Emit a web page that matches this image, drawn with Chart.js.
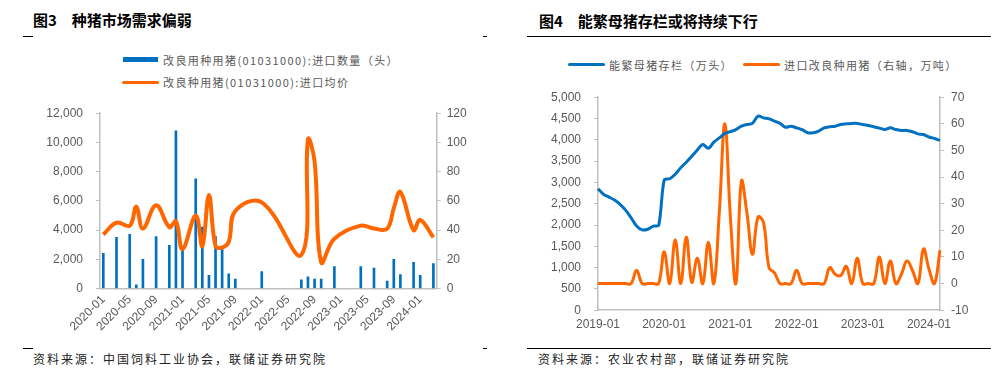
<!DOCTYPE html>
<html>
<head>
<meta charset="utf-8">
<script src="https://cdn.jsdelivr.net/npm/chart.js@4.4.1/dist/chart.umd.min.js"></script>
<style>
  body { margin: 0; width: 1003px; height: 373px; background: #fff; position: relative; overflow: hidden;
         font-family: "Noto Sans CJK SC", sans-serif; }
  .abs { position: absolute; white-space: nowrap; }
  .title { font-size: 15px; font-weight: 700; color: #000; line-height: 20px; }
  .legend { font-size: 11px; letter-spacing: 1.4px; color: #595959; line-height: 14px; }
  .src { font-size: 12px; letter-spacing: 2px; color: #222; line-height: 16px; }
  .rule { position: absolute; height: 1px; background: #000; }
  .sw { position: absolute; }
</style>
</head>
<body>
  <!-- left panel -->
  <div class="abs title" style="left:33px; top:10px;">图3<span style="margin-left:15px;">种猪市场需求偏弱</span></div>
  <div class="rule" style="left:23px; top:36px; width:10px;"></div>
  <div class="rule" style="left:483px; top:36px; width:4px;"></div>
  <div class="sw" style="left:123px; top:57px; width:35px; height:5px; background:#0070C0;"></div>
  <div class="abs legend" style="left:163px; top:53px;">改良用种用猪(01031000):进口数量（头）</div>
  <div class="sw" style="left:122px; top:81px; width:37px; height:3px; border-radius:2px; background:#FF6600;"></div>
  <div class="abs legend" style="left:163px; top:75px;">改良种用猪(01031000):进口均价</div>
  <div class="abs" style="left:0; top:92.5px; width:500px; height:250px;"><canvas id="leftChart" width="500" height="250"></canvas></div>
  <div class="rule" style="left:23px; top:348px; width:10px;"></div>
  <div class="rule" style="left:483px; top:348px; width:4px;"></div>
  <div class="abs src" style="left:33px; top:351px;">资料来源：中国饲料工业协会，联储证券研究院</div>

  <!-- right panel -->
  <div class="abs title" style="left:539px; top:11px;">图4<span style="margin-left:15px;">能繁母猪存栏或将持续下行</span></div>
  <div class="rule" style="left:527px; top:36px; width:464px;"></div>
  <div class="sw" style="left:568px; top:63px; width:37px; height:3px; border-radius:2px; background:#0070C0;"></div>
  <div class="abs legend" style="left:609px; top:58px;">能繁母猪存栏（万头）</div>
  <div class="sw" style="left:743px; top:63px; width:37px; height:3px; border-radius:2px; background:#FF6600;"></div>
  <div class="abs legend" style="left:784px; top:58px;">进口改良种用猪（右轴，万吨）</div>
  <div class="abs" style="left:500px; top:76.5px; width:503px; height:268px;"><canvas id="rightChart" width="503" height="268"></canvas></div>
  <div class="rule" style="left:527px; top:348px; width:464px;"></div>
  <div class="abs src" style="left:538px; top:351px;">资料来源：农业农村部，联储证券研究院</div>

<script>
// month labels, "YYYY-MM"
function monthRange(year, month, count) {
  const out = [];
  for (let k = 0; k < count; k++) {
    const m = (month - 1 + k) % 12 + 1;
    const y = year + Math.floor((month - 1 + k) / 12);
    out.push(y + "-" + String(m).padStart(2, "0"));
  }
  return out;
}

// 图3: 2020-01 .. 2024-03
const importMonths = monthRange(2020, 1, 51);
const importHeads = [2400, null, 3500, null, 3700, 250, 2000, null, 3550, null, 2950, 10800, 2700, null, 7500, 4200, 900,
  3550, 2700, 1000, 650, null, null, null, 1150, null, null, null, null, null, 600, 800, 650, 650, null, 1500,
  null, null, null, 1500, null, 1400, null, 500, 2000, 950, null, 1800, 900, null, 1700];
const importPrice = [37, null, 45, null, 43, 56, 41, null, 57, null, 42, 46, 27, null, 50, 29, 64,
  29, 28, 32, 53, null, null, null, 59, null, null, null, null, null, 23, 102, 87, 18, null, 34,
  null, null, null, 43, null, 41, null, 41, 55, 66, null, 40, 47, null, 35];

// 图4: 2019-01 .. 2024-03
const sowMonths = monthRange(2019, 1, 63);
const sowStock = [2850, 2720, 2655, 2585, 2485, 2350, 2170, 1975, 1885, 1900, 1975, 1990,
  3055, 3085, 3190, 3345, 3475, 3615, 3760, 3890, 3800, 3945, 4045, 4150,
  4190, 4240, 4320, 4360, 4385, 4555, 4515, 4490, 4440, 4385, 4295, 4320,
  4280, 4240, 4165, 4165, 4205, 4280, 4305, 4320, 4360, 4375, 4385, 4385,
  4360, 4335, 4305, 4275, 4240, 4280, 4240, 4220, 4220, 4190, 4140, 4125,
  4065, 4030, 3985];
const breedImports = [0, 0, 0, 0, 0, 0, 0, 5, 0, 0, 0, 0,
  12, 0, 16.5, 0, 17.5, 0.5, 9.5, 0, 15.5, 0, 27, 60,
  25, 0, 38.5, 26.5, 11, 25, 23, 6, 4, 0, 0, 0,
  5, 0, 0, 0, 0, 0, 6, 3.5, 3, 6.5, 0, 9.5,
  0, 0, 0, 10, 0, 8.5, 0, 3.5, 8.5, 5, 0, 13,
  5.5, 0, 12.5];

const leftTicks = [0, 2000, 4000, 6000, 8000, 10000, 12000];
const rightTicks = [0, 20, 40, 60, 80, 100, 120];

const axisGrey = "#BFBFBF";
const tickFont = { family: "'Liberation Sans', Arial, sans-serif", size: 12 };
const tickColor = "#595959";
const fmt = (v) => Number(v).toLocaleString("en-US");

new Chart(document.getElementById("leftChart"), {
  data: {
    labels: importMonths,
    datasets: [
      {
        type: "line",
        data: importPrice,
        yAxisID: "yR",
        borderColor: "#FF6600",
        borderWidth: 4,
        pointRadius: 0,
        tension: 0.4,
        spanGaps: true,
        order: 1,
      },
      {
        type: "bar",
        data: importHeads,
        yAxisID: "y",
        backgroundColor: "#0070C0",
        barThickness: 2,
        order: 2,
      },
    ],
  },
  options: {
    responsive: false,
    animation: false,
    layout: { padding: 0 },
    plugins: { legend: { display: false }, tooltip: { enabled: false } },
    scales: {
      x: {
        offset: true,
        grid: { display: true, drawOnChartArea: false, drawTicks: false },
        border: { color: axisGrey, width: 1.5 },
        ticks: {
          autoSkip: false, minRotation: 45, maxRotation: 45, padding: 4,
          font: tickFont, color: tickColor,
          callback: function (v, i) { return i % 4 === 0 ? this.getLabelForValue(v) : ""; },
        },
        afterFit: (s) => { s.height = 54.5; },
      },
      y: {
        position: "left", min: 0, max: 12000,
        afterBuildTicks: (s) => { s.ticks = leftTicks.map((v) => ({ value: v })); },
        grid: { display: true, drawOnChartArea: false, tickLength: 4, color: axisGrey },
        border: { color: axisGrey, width: 1.5 },
        ticks: { padding: 13, font: tickFont, color: tickColor, callback: fmt },
        afterFit: (s) => { s.width = 100; },
      },
      yR: {
        position: "right", min: 0, max: 120,
        afterBuildTicks: (s) => { s.ticks = rightTicks.map((v) => ({ value: v })); },
        grid: { display: true, drawOnChartArea: false, tickLength: 4, color: axisGrey },
        border: { color: axisGrey, width: 1.5 },
        ticks: { padding: 6, font: tickFont, color: tickColor },
        afterFit: (s) => { s.width = 63.3; },
      },
    },
  },
});

new Chart(document.getElementById("rightChart"), {
  type: "line",
  data: {
    labels: sowMonths,
    datasets: [
      {
        data: sowStock,
        yAxisID: "y",
        borderColor: "#0070C0",
        borderWidth: 3,
        pointRadius: 0,
        tension: 0.3,
      },
      {
        data: breedImports,
        yAxisID: "yR",
        borderColor: "#FF6600",
        borderWidth: 3,
        pointRadius: 0,
        tension: 0.4,
      },
    ],
  },
  options: {
    responsive: false,
    animation: false,
    layout: { padding: 0 },
    plugins: { legend: { display: false }, tooltip: { enabled: false } },
    scales: {
      x: {
        offset: false,
        grid: { display: true, drawOnChartArea: false, drawTicks: false },
        border: { color: axisGrey, width: 1.5 },
        ticks: {
          autoSkip: false, maxRotation: 0, padding: 7,
          font: tickFont, color: tickColor,
          callback: function (v, i) { return i % 12 === 0 ? this.getLabelForValue(v) : ""; },
        },
        afterFit: (s) => { s.height = 34.8; },
      },
      y: {
        position: "left", min: 0, max: 5000,
        ticks: { stepSize: 500, padding: 13, font: tickFont, color: tickColor, callback: fmt },
        grid: { display: true, drawOnChartArea: false, tickLength: 4, color: axisGrey },
        border: { color: axisGrey, width: 1.5 },
        afterFit: (s) => { s.width = 98; },
      },
      yR: {
        position: "right", min: -10, max: 70,
        ticks: { stepSize: 10, padding: 7, font: tickFont, color: tickColor },
        grid: { display: true, drawOnChartArea: false, tickLength: 4, color: axisGrey },
        border: { color: axisGrey, width: 1.5 },
        afterFit: (s) => { s.width = 63; },
      },
    },
  },
});
</script>
</body>
</html>
